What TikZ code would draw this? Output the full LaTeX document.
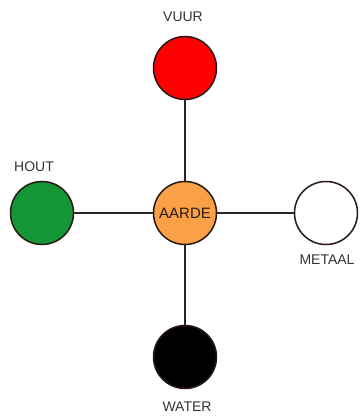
\documentclass[tikz,border=0pt]{standalone}
\usepackage{fontspec}
\setmainfont{Liberation Sans}
\definecolor{vuur}{RGB}{255,0,0}
\definecolor{hout}{RGB}{20,150,55}
\definecolor{aarde}{RGB}{250,160,70}
\definecolor{rim}{RGB}{40,25,20}
\begin{document}
\begin{tikzpicture}[x=1pt,y=-1pt,
  element/.style={circle,draw=rim,line width=1.5pt,minimum size=63pt,inner sep=0pt},
  lbl/.style={font=\fontsize{14}{16}\selectfont,text=black!80,inner sep=0pt},
  link/.style={line width=1.4pt,draw=black!85}]
\useasboundingbox (0,0) rectangle (359,419);
\node[element,fill=aarde,font=\fontsize{15}{17}\selectfont,text=rim] (aarde) at (185,213) {AARDE};
\node[element,fill=vuur] (vuur) at (185,68) {};
\node[element,fill=hout] (hout) at (42,213) {};
\node[element,fill=white] (metaal) at (326,213) {};
\node[element,fill=black] (water) at (185,357) {};
\node[lbl] (lvuur) at (183,17) {VUUR};
\node[lbl] (lhout) at (34,167) {HOUT};
\node[lbl] (lmetaal) at (327,260) {METAAL};
\node[lbl] (lwater) at (187,407) {WATER};
\draw[link] (vuur) -- (aarde);
\draw[link] (aarde) -- (water);
\draw[link] (hout) -- (aarde);
\draw[link] (aarde) -- (metaal);
\end{tikzpicture}
\end{document}
